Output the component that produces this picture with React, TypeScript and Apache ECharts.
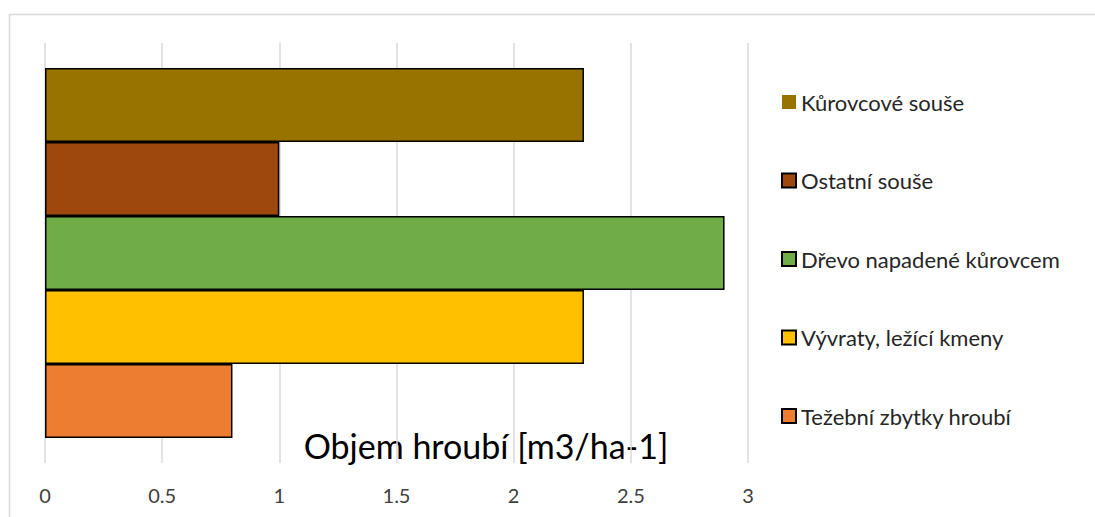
import React, { useEffect, useRef } from "react";
import * as echarts from "echarts";

const seriesNames = [
  "Kůrovcové souše",
  "Ostatní souše",
  "Dřevo napadené kůrovcem",
  "Vývraty, ležící kmeny",
  "Težební zbytky hroubí",
];
const seriesValues = [2.3, 1.0, 2.9, 2.3, 0.8];
const seriesColors = ["#997300", "#9E480E", "#70AD47", "#FFC000", "#ED7D31"];
const categories = [""];
const axisTitle = "Objem hroubí [m3/ha-1]";

export default function App() {
  const ref = useRef<HTMLDivElement>(null);
  useEffect(() => {
    if (!ref.current) return;
    const chart = echarts.init(ref.current, undefined, { renderer: "svg" });
    const font = "Lato, 'Open Sans', sans-serif";
    chart.setOption({
      animation: false,
      backgroundColor: "#ffffff",
      grid: { left: 45, right: 347, top: 43, bottom: 54, containLabel: false },
      xAxis: {
        type: "value",
        min: 0,
        max: 3,
        interval: 0.5,
        axisLine: { show: false },
        axisTick: { show: false },
        splitLine: { show: true, lineStyle: { color: "#d9d9d9", width: 1.5 } },
        axisLabel: { fontSize: 20, color: "#404040", fontFamily: font, margin: 22 },
      },
      yAxis: {
        type: "category",
        data: categories,
        inverse: true,
        axisLine: { show: false },
        axisTick: { show: false },
        axisLabel: { show: false },
        splitLine: { show: false },
      },
      legend: {
        orient: "vertical",
        left: 776,
        top: 86,
        icon: "rect",
        itemWidth: 14,
        itemHeight: 14,
        itemGap: 56.5,
        textStyle: { fontSize: 22, color: "#262626", fontFamily: font, lineHeight: 22 },
        data: seriesNames.map((n, i) =>
          i === 0 ? { name: n, itemStyle: { borderWidth: 0 } } : { name: n }
        ),
      },
      series: seriesNames.map((n, i) => ({
        name: n,
        type: "bar",
        data: [seriesValues[i]],
        barGap: "0%",
        barCategoryGap: "11.9%",
        itemStyle: { color: seriesColors[i], borderColor: "#000000", borderWidth: 1.5 },
      })),
      graphic: [
        {
          type: "rect",
          shape: { x: 9.5, y: 14.5, width: 1200, height: 600 },
          style: { fill: "none", stroke: "#d9d9d9", lineWidth: 1.5 },
          silent: true,
        },
        {
          type: "text",
          x: 486,
          y: 445,
          style: {
            text: axisTitle,
            fontSize: 34,
            fontFamily: font,
            fill: "#000000",
            align: "center",
            verticalAlign: "middle",
          },
        },
      ],
    });
    return () => chart.dispose();
  }, []);
  return (
    <div
      ref={ref}
      style={{ position: "fixed", left: 0, top: 0, width: 1095, height: 517 }}
    />
  );
}
